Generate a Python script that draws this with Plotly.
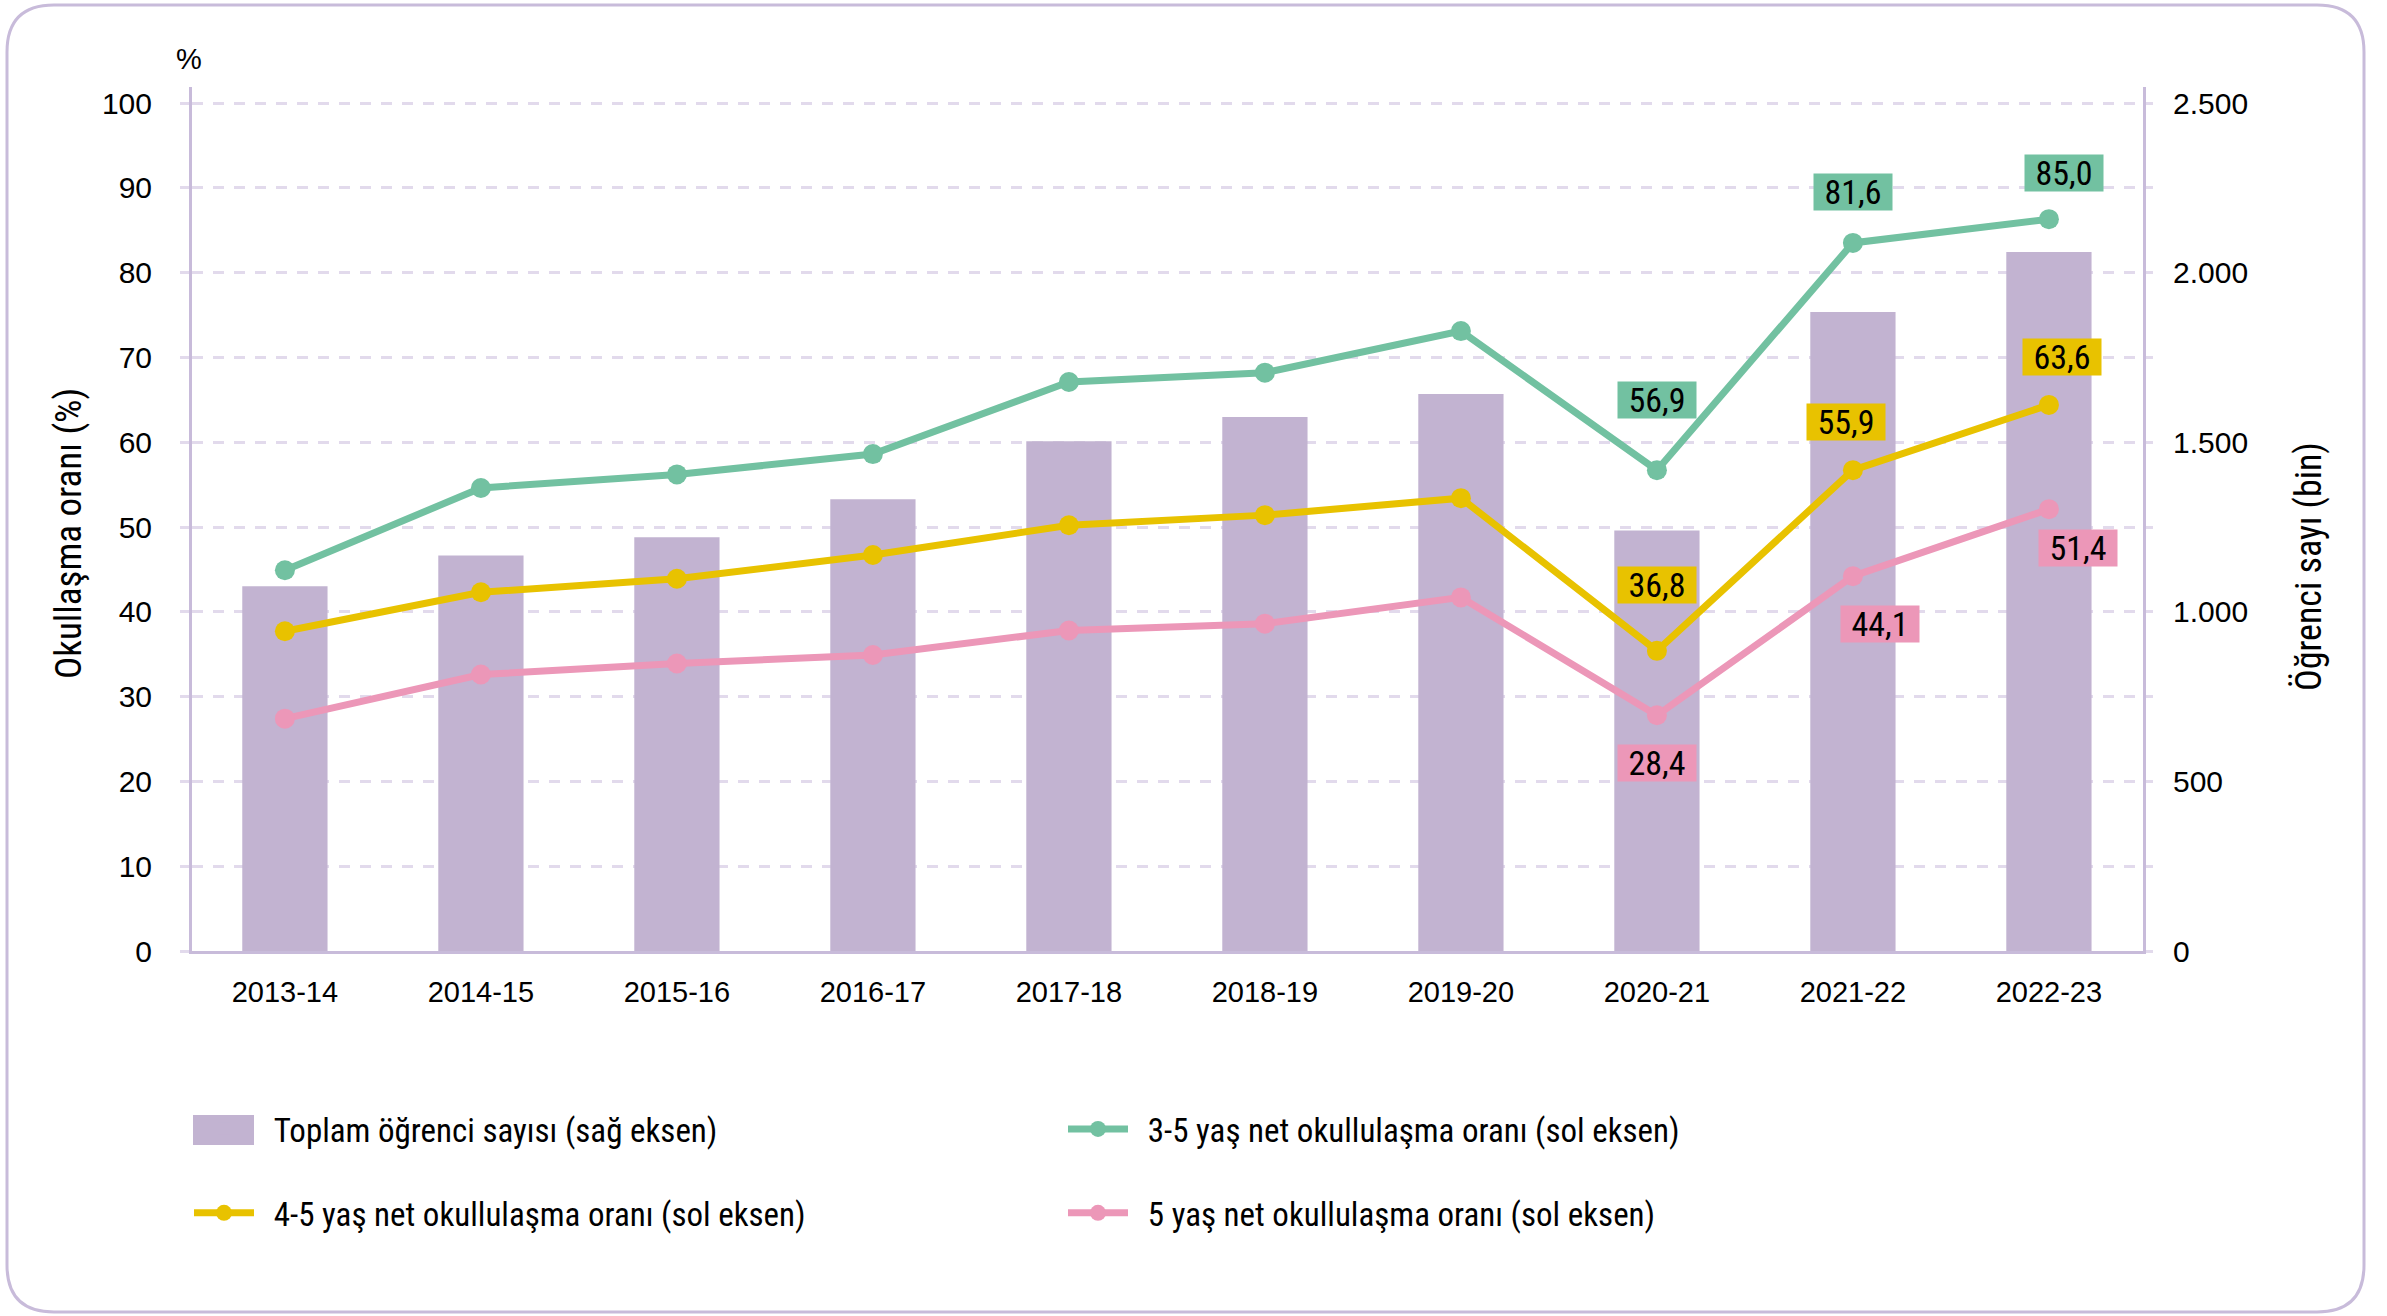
import plotly.graph_objects as go

# ---------------- data ----------------
categories = ["2013-14", "2014-15", "2015-16", "2016-17", "2017-18",
              "2018-19", "2019-20", "2020-21", "2021-22", "2022-23"]
students_thousand = [1075, 1166, 1220, 1332, 1503, 1574, 1642, 1240, 1884, 2061]
rate_3_5 = [44.9, 54.6, 56.2, 58.6, 67.1, 68.2, 73.1, 56.7, 83.5, 86.3]
rate_4_5 = [37.7, 42.3, 43.9, 46.7, 50.2, 51.4, 53.4, 35.4, 56.7, 64.4]
rate_5 = [27.4, 32.6, 33.9, 34.9, 37.8, 38.6, 41.7, 27.8, 44.2, 52.1]

labels_3_5 = {7: "56,9", 8: "81,6", 9: "85,0"}
labels_4_5 = {7: "36,8", 8: "55,9", 9: "63,6"}
labels_5 = {7: "28,4", 8: "44,1", 9: "51,4"}

left_ticks = [0, 10, 20, 30, 40, 50, 60, 70, 80, 90, 100]
right_tickvals = [0, 250, 500, 750, 1000, 1250, 1500, 1750, 2000, 2250, 2500]
right_ticktext = ["0", "", "500", "", "1.000", "", "1.500", "", "2.000", "", "2.500"]

names = ["Toplam öğrenci sayısı (sağ eksen)",
         "3-5 yaş net okullulaşma oranı (sol eksen)",
         "4-5 yaş net okullulaşma oranı (sol eksen)",
         "5 yaş net okullulaşma oranı (sol eksen)"]

# ---------------- style ----------------
W, H = 2387, 1316
L, R, T, B = 192, 244, 87, 365
PW, PH = W - L - R, H - T - B

C_BAR = "#C2B3D1"
C_GREEN = "#72C1A1"
C_YELLOW = "#E8C200"
C_PINK = "#EC97B8"
C_GRID = "#E2DAEC"
C_AXIS = "#C8BBDA"
NARROW = "Liberation Sans Narrow, Arial Narrow, Roboto Condensed, sans-serif"
TICKF = "Liberation Sans, Arial, sans-serif"

pct_max = 100 * PH / (951 - 103)
right_max = pct_max * 25


def px(x):
    return (x - L) / PW


def py(y):
    return (H - B - y) / PH


GAP = "\u2002"

fig = go.Figure()

fig.add_trace(go.Bar(
    x=categories, y=students_thousand, name=GAP + names[0],
    marker=dict(color=C_BAR, line=dict(width=0)),
    width=0.435, yaxis="y", legend="legend", legendgroup="a", legendrank=1))

series = [
    (rate_3_5, C_GREEN, names[1], "legend2", "c", 1),
    (rate_4_5, C_YELLOW, names[2], "legend", "b", 2),
    (rate_5, C_PINK, names[3], "legend2", "d", 2),
]
for vals, col, nm, lg, grp, rank in series:
    fig.add_trace(go.Scatter(
        x=categories, y=vals, name=GAP + nm, mode="lines+markers",
        line=dict(color=col, width=7), marker=dict(color=col, size=20),
        yaxis="y2", legend=lg, legendgroup=grp, legendrank=rank))

annotations = []
label_specs = [
    (rate_3_5, labels_3_5, C_GREEN, {7: (0, 70), 8: (0, 51), 9: (15, 46)}),
    (rate_4_5, labels_4_5, C_YELLOW, {7: (0, 66), 8: (-7, 48), 9: (13, 48)}),
    (rate_5, labels_5, C_PINK, {7: (0, -48), 8: (27, -48), 9: (29, -39)}),
]
for vals, labs, col, offs in label_specs:
    for i, txt in labs.items():
        dx, dy = offs[i]
        annotations.append(dict(
            x=categories[i], y=vals[i], xref="x", yref="y2", text=txt,
            showarrow=False, xshift=dx, yshift=dy, bgcolor=col,
            width=78, height=36, borderpad=0,
            font=dict(family=NARROW, size=34, color="#000000"),
            xanchor="center", yanchor="middle"))

annotations += [
    dict(x=px(68), y=py(533), xref="paper", yref="paper", text="Okullaşma oranı (%)",
         textangle=-90, showarrow=False, font=dict(family=NARROW, size=37, color="#000"),
         xanchor="center", yanchor="middle"),
    dict(x=px(2309), y=py(567), xref="paper", yref="paper", text="Öğrenci sayı (bin)",
         textangle=-90, showarrow=False, font=dict(family=NARROW, size=36, color="#000"),
         xanchor="center", yanchor="middle"),
    dict(x=px(189), y=py(59), xref="paper", yref="paper", text="%",
         showarrow=False, font=dict(family=TICKF, size=29, color="#000"),
         xanchor="center", yanchor="middle"),
]

# rounded frame
x0, x1, y0, y1, r = 7, 2364, 5, 1312, 47
rx, ry = r / PW, r / PH
fx0, fx1, fy0, fy1 = px(x0), px(x1), py(y0), py(y1)
path = (f"M {fx0 + rx},{fy0} L {fx1 - rx},{fy0} Q {fx1},{fy0} {fx1},{fy0 - ry} "
        f"L {fx1},{fy1 + ry} Q {fx1},{fy1} {fx1 - rx},{fy1} "
        f"L {fx0 + rx},{fy1} Q {fx0},{fy1} {fx0},{fy1 + ry} "
        f"L {fx0},{fy0 - ry} Q {fx0},{fy0} {fx0 + rx},{fy0} Z")

shapes = [
    dict(type="path", xref="paper", yref="paper", path=path,
         line=dict(color=C_AXIS, width=3), fillcolor="rgba(0,0,0,0)", layer="below"),
    # legend swatch for the bar series
    dict(type="rect", xref="paper", yref="paper", x0=px(193), x1=px(254),
         y0=py(1145), y1=py(1115), fillcolor=C_BAR, line=dict(width=0), layer="above"),
]

legend_common = dict(
    orientation="v", xanchor="left", yanchor="top", traceorder="grouped",
    tracegroupgap=38, itemwidth=60, bgcolor="rgba(0,0,0,0)",
    font=dict(family=NARROW, size=33, color="#000"), itemclick=False)

fig.update_layout(
    width=W, height=H, autosize=False,
    margin=dict(l=L, r=R, t=T, b=B),
    paper_bgcolor="white", plot_bgcolor="white",
    showlegend=True,
    legend=dict(x=px(189), y=py(1101), **legend_common),
    legend2=dict(x=px(1063), y=py(1101), **legend_common),
    xaxis=dict(type="category", range=[-0.474, 9.48], showline=True,
               linecolor=C_AXIS, linewidth=3, ticks="", showgrid=False,
               tickfont=dict(family=TICKF, size=29, color="#000"),
               ticklabelstandoff=13),
    yaxis=dict(side="right", range=[0, right_max], tickvals=right_tickvals,
               ticktext=right_ticktext, showgrid=True, gridcolor=C_GRID,
               gridwidth=2.5, griddash="11px,10px", showline=True,
               linecolor=C_AXIS, linewidth=3, ticks="outside", ticklen=7,
               tickcolor=C_GRID, tickwidth=2.5, zeroline=False,
               tickfont=dict(family=TICKF, size=30, color="#000"),
               ticklabelstandoff=14),
    yaxis2=dict(side="left", overlaying="y", range=[0, pct_max],
                tickvals=left_ticks, showgrid=False, showline=True,
                linecolor=C_AXIS, linewidth=3, ticks="outside", ticklen=9,
                tickcolor=C_GRID, tickwidth=2.5, zeroline=False,
                tickfont=dict(family=TICKF, size=30, color="#000"),
                ticklabelstandoff=22),
    annotations=annotations,
    shapes=shapes,
)

fig.write_html("out.html", config={"displayModeBar": False},
               post_script="document.body.style.margin='0px';")
